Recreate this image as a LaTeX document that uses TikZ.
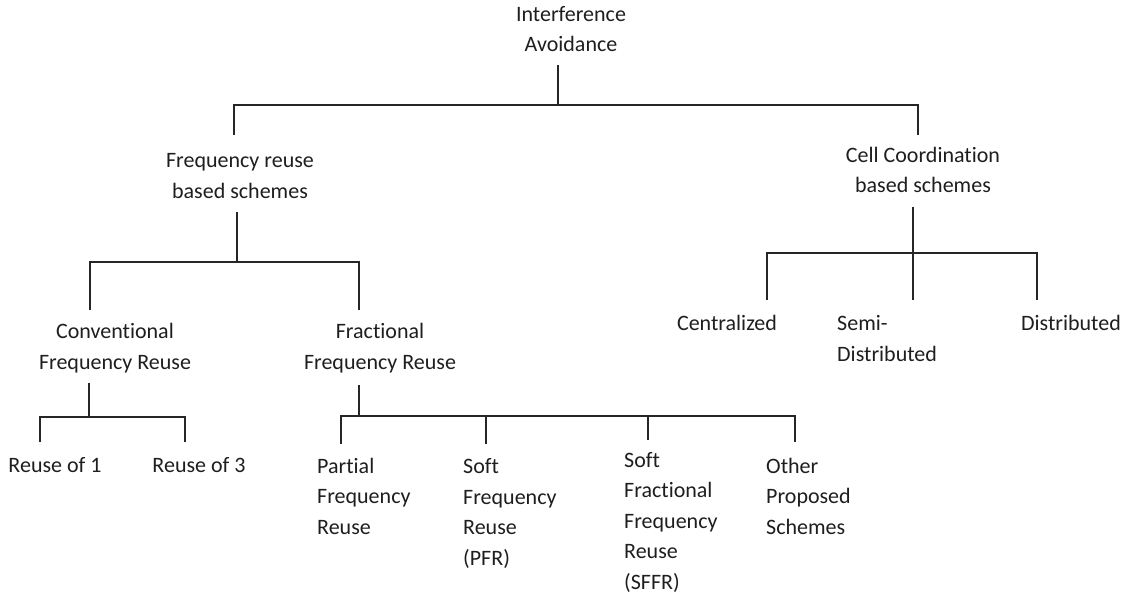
\documentclass[tikz,border=0pt]{standalone}
\usepackage{fontspec}
\setmainfont{Carlito}[Ligatures=NoCommon]
\definecolor{txt}{HTML}{1E1E1E}
\definecolor{ln}{HTML}{262626}
\begin{document}
\begin{tikzpicture}[x=1pt,y=-1pt,
  lbl/.style={inner sep=0pt, font=\fontsize{22}{30.5}\selectfont, text=txt, align=center, anchor=base},
  lblleft/.style={lbl, align=left, anchor=base west},
  tree/.style={line width=1.7pt, draw=ln, line cap=butt}]
\useasboundingbox (0,0) rectangle (1125,599);

% labels (each placed at the baseline of its last line)
\node[lbl] (root) at (571,52) {Interference\\Avoidance};
\node[lbl] (freq) at (240,198) {Frequency reuse\\based schemes};
\node[lbl] (cell) at (923,193) {Cell Coordination\\based schemes};
\node[lbl] (conv) at (115,369) {Conventional\\Frequency Reuse};
\node[lbl] (frac) at (380,369) {Fractional\\Frequency Reuse};
\node[lbl] (cen) at (727,330) {Centralized};
\node[lblleft] (semi) at (837,361) {Semi-\\Distributed};
\node[lbl] (dist) at (1071,330) {Distributed};
\node[lbl] (r1) at (55,472) {Reuse of 1};
\node[lbl] (r3) at (199,472) {Reuse of 3};
\node[lblleft] (pfr) at (317,534) {Partial\\Frequency\\Reuse};
\node[lblleft] (sfr) at (463,565) {Soft\\Frequency\\Reuse\\(PFR)};
\node[lblleft] (sffr) at (624,589) {Soft\\Fractional\\Frequency\\Reuse\\(SFFR)};
\node[lblleft] (oth) at (766,534) {Other\\Proposed\\Schemes};

% junction points of the tree
\coordinate (root-top) at (558,65);
\coordinate (root-bus) at (558,105);
\coordinate (freq-top) at (234,135);
\coordinate (cell-top) at (918,135);

\coordinate (freq-stem) at (237,212);
\coordinate (freq-bus) at (237,262);
\coordinate (conv-top) at (90,310);
\coordinate (frac-top) at (359,310);

\coordinate (cell-stem) at (913,207);
\coordinate (cell-bus) at (913,253);
\coordinate (cen-top) at (767,300);
\coordinate (semi-top) at (913,300);
\coordinate (dist-top) at (1037,300);

\coordinate (conv-stem) at (89,383);
\coordinate (conv-bus) at (89,417);
\coordinate (r1-top) at (40,442);
\coordinate (r3-top) at (185,442);

\coordinate (frac-stem) at (359,385);
\coordinate (frac-bus) at (359,416);
\coordinate (pfr-top) at (341,444);
\coordinate (sfr-top) at (486,444);
\coordinate (sffr-top) at (648,440);
\coordinate (oth-top) at (795,442);

% level 1
\draw[tree] (root-top) -- (root-bus);
\draw[tree] (freq-top) |- (root-bus) -| (cell-top);

% frequency reuse branch
\draw[tree] (freq-stem) -- (freq-bus);
\draw[tree] (conv-top) |- (freq-bus) -| (frac-top);

% cell coordination branch
\draw[tree] (cell-stem) -- (semi-top);
\draw[tree] (cen-top) |- (cell-bus) -| (dist-top);

% conventional reuse
\draw[tree] (conv-stem) -- (conv-bus);
\draw[tree] (r1-top) |- (conv-bus) -| (r3-top);

% fractional reuse
\draw[tree] (frac-stem) -- (frac-bus);
\draw[tree] (pfr-top) |- (frac-bus) -| (oth-top);
\draw[tree] (sfr-top) -- (sfr-top |- frac-bus);
\draw[tree] (sffr-top) -- (sffr-top |- frac-bus);
\end{tikzpicture}
\end{document}
